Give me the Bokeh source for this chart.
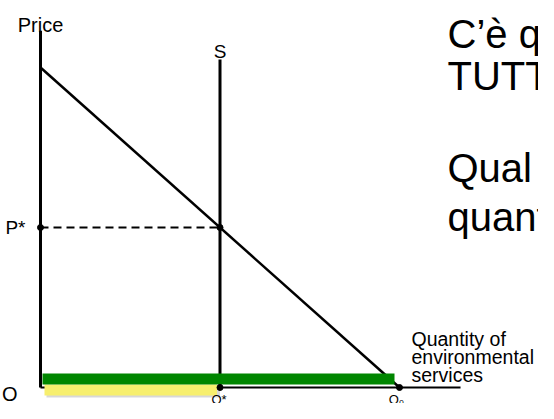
from bokeh.plotting import figure
from bokeh.models import Range1d, Label
from bokeh.embed import file_html
from bokeh.resources import INLINE

# ---- data (economic units) ----
demand_q = [0, 10]          # linear demand: P = 10 - Q
demand_p = [10, 0]
q_star = 5                  # Q*
p_star = 5                  # P*
q_zero = 10                 # Q0
supply_top = 10.25          # top of vertical supply line S
price_axis_top = 11.15
qty_axis_end = 11.7

point_q = [0, q_star, q_star, q_zero]
point_p = [p_star, p_star, 0, 0]

text_block_1 = ["C\u2019\u00e8 q", "TUTT"]
text_block_2 = ["Qual", "quant"]
qty_label_lines = ["Quantity of", "environmental", "services"]

# ---- figure ----
W, H = 538, 403
ORIG_X, ORIG_Y = 40, 387      # origin position inside the canvas (px)
SX, SY = 35.9, 32.0           # px per unit
xr = Range1d(-ORIG_X / SX, (W - ORIG_X) / SX)
yr = Range1d(-(H - ORIG_Y) / SY, ORIG_Y / SY)

p = figure(width=W, height=H, x_range=xr, y_range=yr, output_backend="svg",
           toolbar_location=None, min_border=0, x_axis_location=None,
           y_axis_location=None, outline_line_color=None,
           background_fill_color="white", border_fill_color="white")
p.grid.visible = False

FONT = "Liberation Sans"

# axes
p.line([0, 0], [0, price_axis_top], line_color="black", line_width=3)
p.line([0, qty_axis_end], [0, 0], line_color="black", line_width=2)

# supply and demand
p.line([q_star, q_star], [0, supply_top], line_color="black", line_width=3)
p.line(demand_q, demand_p, line_color="black", line_width=2.5)

# dashed P* line
p.line([0, q_star], [p_star, p_star], line_color="black", line_width=2, line_dash="8 5")

# highlight bars
p.quad(left=[6 / SX], right=[q_star], bottom=[-10 / SY], top=[1 / SY],
       fill_color="#a8a8a8", fill_alpha=0.45, line_color=None)
p.quad(left=[4 / SX], right=[q_star - 3 / SX], bottom=[-8 / SY], top=[3 / SY],
       fill_color="#f7ef6e", line_color=None)
p.quad(left=[2 / SX], right=[q_zero - 5 / SX], bottom=[3 / SY], top=[14 / SY],
       fill_color="#008600", line_color=None)

# points
p.scatter(point_q, point_p, size=6, color="black")

def lab(text, x, y, size, align="left", baseline="alphabetic", units="data"):
    p.add_layout(Label(x=x, y=y, text=text, x_units=units, y_units=units,
                       text_font=FONT, text_font_size=f"{size}px",
                       text_align=align, text_baseline=baseline, text_color="black"))

lab("Price", 0, price_axis_top + 6 / SY, 20, align="center")
lab("S", q_star, supply_top + 8 / SY, 19, align="center")
lab("P*", -15 / SX, p_star, 19, align="right", baseline="middle")
lab("O", -23 / SX, -6 / SY, 20, align="right")
lab("Q*", q_star - 1 / SX, -11.5 / SY, 13, align="center")
lab("Q\u2080", q_zero - 3 / SX, -11.5 / SY, 13, align="center")

# quantity axis label
for i, t in enumerate(qty_label_lines):
    lab(t, 411, 65 - 18 * i, 19.5, units="screen")

# big right-hand text
for t, y in zip(text_block_1, [370, 328]):
    lab(t, 447, y, 40, units="screen")
for t, y in zip(text_block_2, [236, 187]):
    lab(t, 447, y, 40, units="screen")

open("out.html", "w").write(file_html(p, INLINE))
